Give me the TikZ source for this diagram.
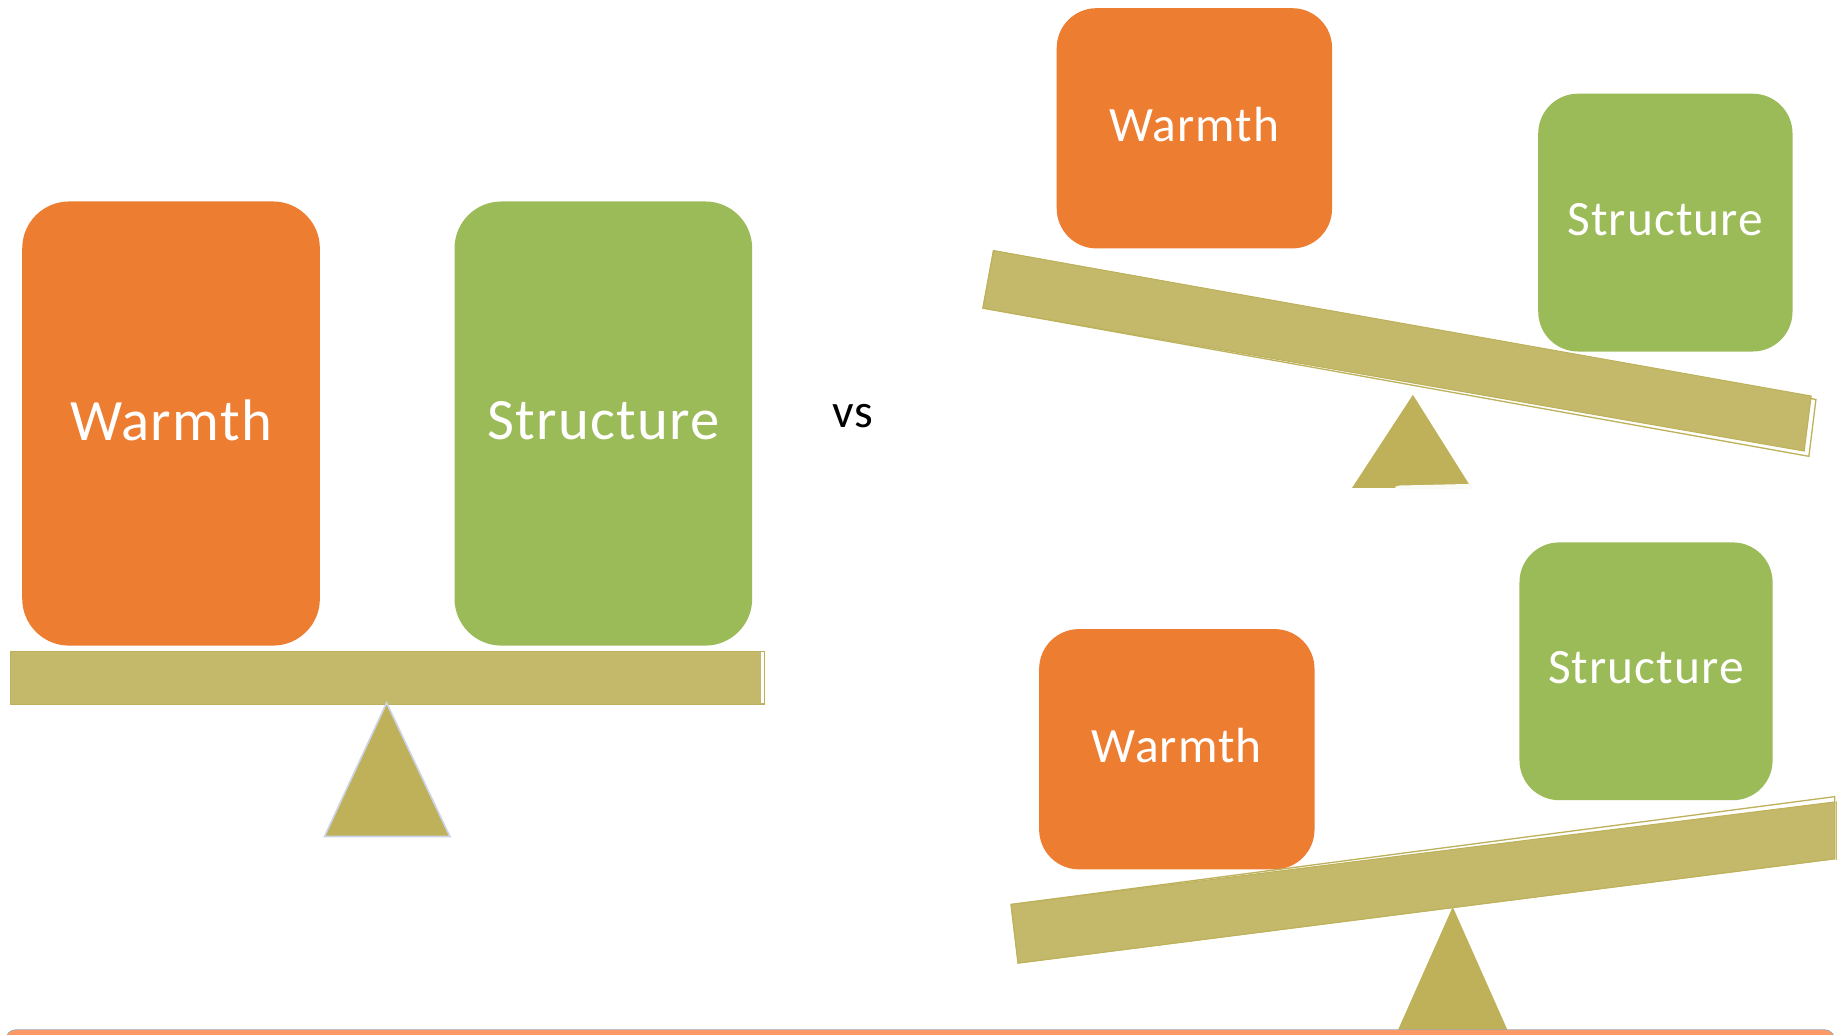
\documentclass[tikz,border=0pt]{standalone}
\usepackage{fontspec}
\setmainfont{Carlito}
\newfontfamily\blockfont[LetterSpace=2.2]{Carlito}
\begin{document}
\definecolor{warm}{HTML}{ED7D31}
\definecolor{struct}{HTML}{9BBB59}
\definecolor{beamfill}{HTML}{C4B96A}
\definecolor{beamedge}{HTML}{BDB15B}
\definecolor{pivot}{HTML}{BEB159}
\definecolor{pivotedge}{HTML}{CDD3E6}
\definecolor{stripe}{HTML}{FF9A66}
\begin{tikzpicture}[x=0.025cm,y=-0.025cm,
  block/.style={inner sep=0pt, text=white, align=center, text depth=0.15cm},
  bigblock/.style={block, minimum width=6.35cm, minimum height=9.475cm,
    rounded corners=1cm, font=\blockfont\fontsize{35.6}{40}\selectfont},
  smallblock/.style={block, rounded corners=0.85cm,
    font=\blockfont\fontsize{30}{34}\selectfont},
  beamback/.style={draw=beamedge, fill=white, line width=0.8pt},
  beamfront/.style={fill=beamfill, draw=beamedge, line width=0.6pt},
  fulcrum/.style={fill=pivot}]
\useasboundingbox (0,0) rectangle (1568,883);
\begin{scope}
\clip (0,0) rectangle (1568,883);

% ---------- balanced scale ----------
\node[bigblock, fill=warm]   (lwarm)   at (146,361.5) {Warmth};
\node[bigblock, fill=struct] (lstruct) at (515,361.5) {Structure};
\draw[beamback] (9,556) rectangle (652.5,601);
\fill[beamfill] (9,556) rectangle (649.5,601);
\draw[beamedge, line width=0.6pt] (9,556) -- (649.5,556) (9,601) -- (649.5,601) (9,556) -- (9,601);
\draw[fulcrum, draw=pivotedge, line width=1pt] (330,600) -- (384,714) -- (277,714) -- cycle;

\node[font=\fontsize{29}{33}\selectfont, inner sep=0pt] (vs) at (728,355.5) {vs};

% ---------- tipped towards structure ----------
\node[smallblock, fill=warm, minimum width=5.875cm, minimum height=5.125cm]
  (twarm) at (1019.5,109.5) {Warmth};
\node[smallblock, fill=struct, minimum width=5.425cm, minimum height=5.5cm]
  (tstruct) at (1421.5,190) {Structure};
\draw[beamback] (848,214) -- (1550,341) -- (1544,389.5) -- (839,263) -- cycle;
\draw[beamfront] (848,214) -- (1546,338) -- (1540,385) -- (839,263) -- cycle;
\fill[fulcrum] (1206,337) -- (1256,416.5) -- (1154,416.5) -- cycle;
\fill[white!94!beamfill, rounded corners=2pt] (1191,417.5) -- (1191,414.5) -- (1257,413) -- (1257,417.5) -- cycle;

% ---------- tipped towards warmth ----------
\node[smallblock, fill=warm, minimum width=5.875cm, minimum height=5.125cm]
  (bwarm) at (1004.5,639.5) {Warmth};
\node[smallblock, fill=struct, minimum width=5.4cm, minimum height=5.5cm]
  (bstruct) at (1405,573) {Structure};
\draw[beamback] (863,772) -- (1566,680) -- (1566,733) -- (869,822) -- cycle;
\draw[beamfront] (863,772) -- (1566,684.5) -- (1566,733) -- (869,822) -- cycle;
\fill[beamfill] (1567,684) -- (1600,680) -- (1600,730) -- (1567,734) -- cycle;
\fill[fulcrum] (1240,774) -- (1296,900) -- (1184,900) -- cycle;

% ---------- bottom band ----------
\draw[fill=stripe, draw=gray!70, line width=0.5pt, rounded corners=6pt]
  (5,879) rectangle (1566,920);
\end{scope}
\end{tikzpicture}
\end{document}
